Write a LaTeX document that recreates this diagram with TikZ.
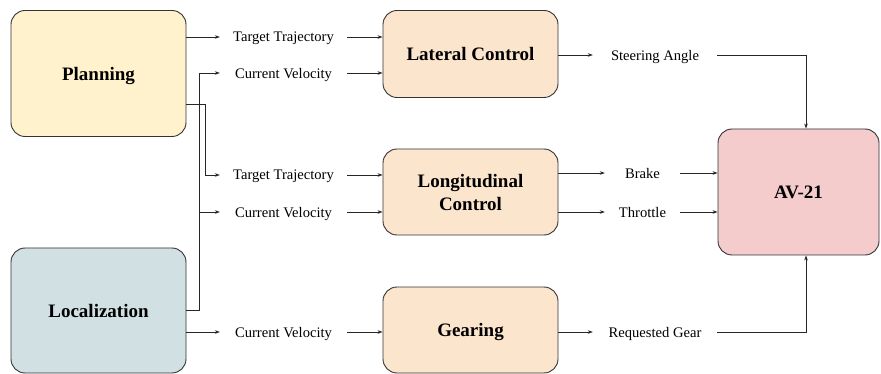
\documentclass[tikz,border=0pt]{standalone}
\usepackage{fontspec}
\setmainfont{Liberation Serif}
\usetikzlibrary{arrows.meta}
\definecolor{planc}{HTML}{FFF2CC}
\definecolor{locc}{HTML}{D0E0E3}
\definecolor{ctrlc}{HTML}{FCE5CD}
\definecolor{avc}{HTML}{F4CCCC}
\begin{document}
\begin{tikzpicture}[x=1pt,y=-1pt,
  box/.style={draw=black!80, line width=0.9pt, rounded corners=14pt, inner sep=0pt,
    font=\bfseries\fontsize{19}{23}\selectfont, align=center, text depth=0pt},
  lbl/.style={font=\fontsize{14.6}{17}\selectfont, inner sep=0pt, text depth=0pt},
  arr/.style={-{Stealth[length=5pt,width=3.6pt]}, line width=0.7pt, draw=black!85},
  ln/.style={line width=0.7pt, draw=black!85}]
\useasboundingbox (0,0) rectangle (881,374);
% boxes
\node[box, fill=planc, minimum width=175pt, minimum height=126pt] (plan) at (98.5,73.5) {Planning};
\node[box, fill=locc, minimum width=175pt, minimum height=125pt] (loc) at (98.5,310.5) {Localization};
\node[box, fill=ctrlc, minimum width=175pt, minimum height=87pt] (lat) at (470.5,54) {Lateral Control};
\node[box, fill=ctrlc, minimum width=175pt, minimum height=86pt] (lon) at (470.5,192) {Longitudinal\\Control};
\node[box, fill=ctrlc, minimum width=175pt, minimum height=86pt] (gear) at (470.5,330) {Gearing};
\node[box, fill=avc, minimum width=161pt, minimum height=126pt] (av) at (798.5,192) {AV-21};
% labels
\node[lbl, minimum width=127pt] (t1) at (283.5,37) {Target Trajectory};
\node[lbl, minimum width=127pt] (v1) at (283.5,73) {Current Velocity};
\node[lbl, minimum width=127pt] (t2) at (283.5,175) {Target Trajectory};
\node[lbl, minimum width=127pt] (v2) at (283.5,212) {Current Velocity};
\node[lbl, minimum width=127pt] (v3) at (283.5,332) {Current Velocity};
\node[lbl, minimum width=124pt] (sa) at (655,55) {Steering Angle};
\node[lbl, minimum width=75pt] (br) at (642.5,173) {Brake};
\node[lbl, minimum width=75pt] (th) at (642.5,212) {Throttle};
\node[lbl, minimum width=124pt] (rg) at (655,332) {Requested Gear};
% left connectors
\draw[arr] (t1.west -| plan.east) -- (t1.west);
\draw[arr] (t1.east) -- (t1.east -| lat.west);
\draw[arr] (loc.east) -- ++(13,0) |- (v1.west);
\draw[arr] (loc.east) -- ++(13,0) |- (v2.west);
\draw[arr] (v1.east) -- (v1.east -| lat.west);
\draw[arr] ([yshift=-31pt]plan.east) -- ++(19,0) |- (t2.west);
\draw[arr] (t2.east) -- (t2.east -| lon.west);
\draw[arr] (v2.east) -- (v2.east -| lon.west);
\draw[arr] (v3.west -| loc.east) -- (v3.west);
\draw[arr] (v3.east) -- (v3.east -| gear.west);
% right connectors
\draw[arr] (sa.west -| lat.east) -- (sa.west);
\draw[arr] (sa.east) -| ([xshift=7.5pt]av.north);
\draw[arr] (br.west -| lon.east) -- (br.west);
\draw[arr] (br.east) -- (br.east -| av.west);
\draw[arr] (th.west -| lon.east) -- (th.west);
\draw[arr] (th.east) -- (th.east -| av.west);
\draw[arr] (rg.west -| gear.east) -- (rg.west);
\draw[arr] (rg.east) -| ([xshift=7.5pt]av.south);
\end{tikzpicture}
\end{document}
